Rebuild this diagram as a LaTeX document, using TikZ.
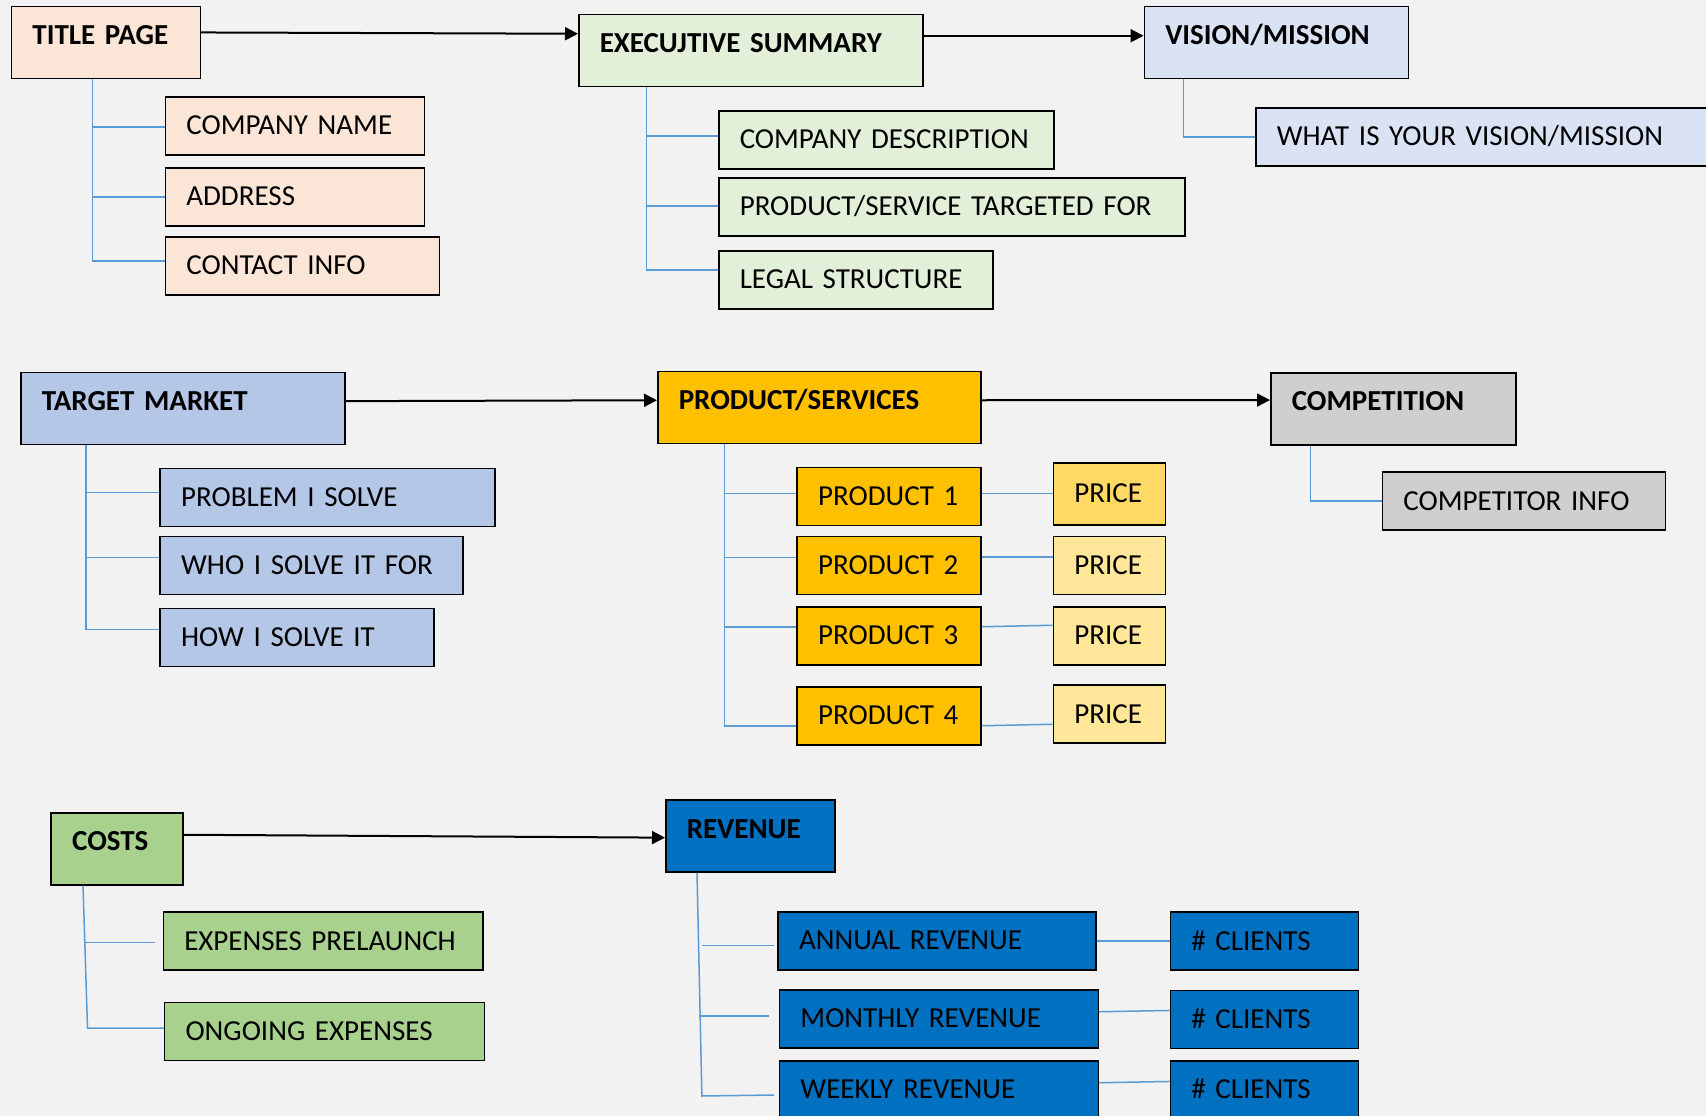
\documentclass[tikz,border=0pt]{standalone}
\usepackage{fontspec}
\setmainfont{Carlito}
\usetikzlibrary{arrows.meta}
\definecolor{bgc}{HTML}{F2F2F2}
\definecolor{peach}{HTML}{FBE5D6}
\definecolor{lgreen}{HTML}{E2F0D9}
\definecolor{lblue}{HTML}{DAE3F3}
\definecolor{mblue}{HTML}{B4C7E7}
\definecolor{gold}{HTML}{FFC000}
\definecolor{priceA}{HTML}{FFD966}
\definecolor{priceB}{HTML}{FFE699}
\definecolor{lgray}{HTML}{D0CECE}
\definecolor{mgreen}{HTML}{A9D18E}
\definecolor{dblue}{HTML}{0070C0}
\definecolor{connc}{HTML}{5B9BD5}
\tikzset{
  box/.style={draw=black, line width=1.5pt, anchor=north west, inner xsep=21pt, inner ysep=0pt, align=left, font={\fontsize{29pt}{34pt}\selectfont}},
  hdr/.style={box, font={\fontsize{29pt}{34pt}\selectfont\bfseries}, text height=38pt, text depth=34pt},
  sub/.style={box, text height=38pt, text depth=20pt},
  conn/.style={draw=connc, line width=1.5pt},
  arr/.style={draw=black, line width=2pt, -{Triangle[length=13pt,width=13pt]}}
}
\begin{document}
\begin{tikzpicture}[x=1pt,y=-1pt]
\useasboundingbox (0,0) rectangle (1706,1116);
\clip (0,0) rectangle (1706,1116);
\fill[bgc] (0,0) rectangle (1706,1116);

% ---- Title page group
\node[hdr, fill=peach, text width=147pt] (title) at (10.7,5.7) {TITLE PAGE};
\node[sub, fill=peach, text width=217pt] (cname) at (164.6,96) {COMPANY NAME};
\node[sub, fill=peach, text width=217pt] (address) at (164.6,167) {ADDRESS};
\node[sub, fill=peach, text width=232pt] (contact) at (164.6,236) {CONTACT INFO};

% ---- Executive summary group
\node[hdr, fill=lgreen, text width=302pt] (exec) at (578,14) {EXECUJTIVE SUMMARY};
\node[sub, fill=lgreen, text width=293pt] (cdesc) at (718,110) {COMPANY DESCRIPTION};
\node[sub, fill=lgreen, text width=424pt] (tfor) at (718,177) {PRODUCT/SERVICE TARGETED FOR};
\node[sub, fill=lgreen, text width=232pt] (legal) at (718,250) {LEGAL STRUCTURE};

% ---- Vision group
\node[hdr, fill=lblue, text width=222pt] (vision) at (1143.5,6) {VISION/MISSION};
\node[sub, fill=lblue, text width=438pt] (what) at (1255,107) {WHAT IS YOUR VISION/MISSION};

% ---- Target market group
\node[hdr, fill=mblue, text width=282pt] (target) at (20,371.7) {TARGET MARKET};
\node[sub, fill=mblue, text width=293pt] (problem) at (159.4,467.7) {PROBLEM I SOLVE};
\node[sub, fill=mblue, text width=261pt] (who) at (159.4,535.7) {WHO I SOLVE IT FOR};
\node[sub, fill=mblue, text width=232pt] (how) at (159.4,607.7) {HOW I SOLVE IT};

% ---- Product/services group
\node[hdr, fill=gold, text width=281pt] (ps) at (657,370.7) {PRODUCT/SERVICES};
\node[sub, fill=gold, text width=142pt] (p1) at (796.4,466.7) {PRODUCT 1};
\node[sub, fill=gold, text width=142pt] (p2) at (796.4,535.7) {PRODUCT 2};
\node[sub, fill=gold, text width=142pt] (p3) at (796.4,606) {PRODUCT 3};
\node[sub, fill=gold, text width=142pt] (p4) at (796.4,686) {PRODUCT 4};
\node[sub, fill=priceA, text width=70pt, text height=40pt, text depth=22pt] (pr1) at (1052.6,462) {PRICE};
\node[sub, fill=priceB, text width=70pt] (pr2) at (1052.6,535.7) {PRICE};
\node[sub, fill=priceB, text width=70pt] (pr3) at (1052.6,606) {PRICE};
\node[sub, fill=priceB, text width=70pt] (pr4) at (1052.6,684.3) {PRICE};

% ---- Competition group
\node[hdr, fill=lgray, text width=203pt] (comp) at (1270,372) {COMPETITION};
\node[sub, fill=lgray, text width=241pt] (cinfo) at (1381.7,471.3) {COMPETITOR INFO};

% ---- Costs group
\node[hdr, fill=mgreen, text width=90pt] (costs) at (50.4,812) {COSTS};
\node[sub, fill=mgreen, text width=277.5pt] (prelaunch) at (162.5,911.3) {EXPENSES PRELAUNCH};
\node[sub, fill=mgreen, text width=278pt] (ongoing) at (163.8,1001.7) {ONGOING EXPENSES};

% ---- Revenue group
\node[hdr, fill=dblue, text width=127pt] (revenue) at (665,799.3) {REVENUE};
\node[sub, fill=dblue, text width=276pt] (annual) at (777.3,911) {ANNUAL REVENUE};
\node[sub, fill=dblue, text width=277pt] (monthly) at (778.7,989) {MONTHLY REVENUE};
\node[sub, fill=dblue, text width=277pt] (weekly) at (778.7,1060) {WEEKLY REVENUE};
\node[sub, fill=dblue, text width=146pt] (cl1) at (1169.6,911.3) {\# CLIENTS};
\node[sub, fill=dblue, text width=146pt] (cl2) at (1169.6,989.7) {\# CLIENTS};
\node[sub, fill=dblue, text width=146pt] (cl3) at (1169.6,1060) {\# CLIENTS};

% ---- main arrows
\draw[arr] ([yshift=10pt]title.east) -- ([yshift=17pt]exec.west);
\draw[arr] ([yshift=15pt]exec.east) -- ([yshift=7pt]vision.west);
\draw[arr] ([yshift=7.3pt]target.east) -- ([yshift=7.2pt]ps.west);
\draw[arr] ([yshift=7.2pt]ps.east) -- ([yshift=8.7pt]comp.west);
\draw[arr] ([yshift=14pt]costs.east) -- ([yshift=-1.6pt]revenue.west);

% ---- tree connectors
\draw[conn] ([xshift=82pt]title.south west) |- ([yshift=-1pt]cname.west);
\draw[conn] ([xshift=82pt]title.south west) |- (address.west);
\draw[conn] ([xshift=82pt]title.south west) |- ([yshift=5pt]contact.west);

\draw[conn] ([xshift=68.5pt]exec.south west) |- ([yshift=4pt]cdesc.west);
\draw[conn] ([xshift=68.5pt]exec.south west) |- ([yshift=1pt]tfor.west);
\draw[conn] ([xshift=68.5pt]exec.south west) |- ([yshift=10pt]legal.west);

\draw[conn] ([xshift=40pt]vision.south west) |- (what.west);

\draw[conn] ([xshift=66pt]target.south west) |- ([yshift=5pt]problem.west);
\draw[conn] ([xshift=66pt]target.south west) |- ([yshift=8pt]who.west);
\draw[conn] ([xshift=66pt]target.south west) |- ([yshift=8pt]how.west);

\draw[conn] ([xshift=67.3pt]ps.south west) |- ([yshift=3pt]p1.west);
\draw[conn] ([xshift=67.3pt]ps.south west) |- ([yshift=8pt]p2.west);
\draw[conn] ([xshift=67.3pt]ps.south west) |- ([yshift=9pt]p3.west);
\draw[conn] ([xshift=67.3pt]ps.south west) |- ([yshift=-10pt]p4.west);

\draw[conn] ([yshift=3pt]p1.east) -- ([yshift=3pt]p1.east -| pr1.west);
\draw[conn] ([yshift=8.7pt]p2.east) -- ([yshift=8.7pt]p2.east -| pr2.west);
\draw[conn] ([yshift=9pt]p3.east) -- ([yshift=10.5pt]p3.east -| pr3.west);
\draw[conn] ([yshift=-10pt]p4.east) -- ([yshift=-8.5pt]p4.east -| pr4.west);

\draw[conn] ([xshift=40.3pt]comp.south west) |- (cinfo.west);

\coordinate (cbot) at (87.5,1028);
\coordinate (cmid) at (84.5,942.7);
\coordinate (cpre) at (154.5,942.7);
\draw[conn] ([xshift=32.6pt]costs.south west) -- (cbot) -- (cbot -| ongoing.west);
\draw[conn] (cmid) -- (cpre);

\coordinate (rbot) at (701.9,1096);
\coordinate (ra1) at (701.9,945.7);
\coordinate (ra2) at (774,945.7);
\coordinate (rm1) at (698.5,1016);
\coordinate (rm2) at (769,1016);
\coordinate (rw2) at (774,1095);
\draw[conn] ([xshift=32pt]revenue.south west) -- (rbot) -- (rw2);
\draw[conn] (ra1) -- (ra2);
\draw[conn] (rm1) -- (rm2);

\draw[conn] (annual.east) -- (annual.east -| cl1.west);
\draw[conn] ([yshift=7pt]monthly.east) -- ([yshift=8.3pt]monthly.east -| cl2.west);
\draw[conn] ([yshift=7pt]weekly.east) -- ([yshift=8.3pt]weekly.east -| cl3.west);
\end{tikzpicture}
\end{document}
